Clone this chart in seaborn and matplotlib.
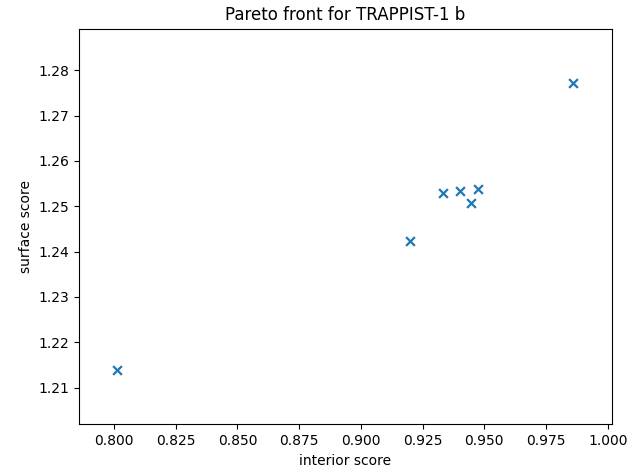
import matplotlib
matplotlib.use("Agg")
import matplotlib.pyplot as plt
import seaborn as sns
import pandas as pd

interior_score = [0.8013, 0.9200, 0.9332, 0.9403, 0.9446, 0.9475, 0.9861]
surface_score = [1.2139, 1.2424, 1.2530, 1.2534, 1.2507, 1.2539, 1.2772]

df = pd.DataFrame({"interior score": interior_score, "surface score": surface_score})

fig = plt.figure(figsize=(6.44, 4.74), dpi=100)
ax = fig.add_axes([0.1231, 0.1049, 0.9498 - 0.1231, 0.9395 - 0.1049])
sns.scatterplot(data=df, x="interior score", y="surface score", ax=ax,
                marker="x", s=40, color="#1f77b4", linewidth=1.6)
ax.set_xlim(0.7859, 1.0016)
ax.set_ylim(1.2019, 1.2892)
ax.set_xticks([0.800, 0.825, 0.850, 0.875, 0.900, 0.925, 0.950, 0.975, 1.000])
ax.set_xticklabels(["0.800", "0.825", "0.850", "0.875", "0.900", "0.925", "0.950", "0.975", "1.000"])
ax.set_yticks([1.21, 1.22, 1.23, 1.24, 1.25, 1.26, 1.27, 1.28])
ax.set_yticklabels(["1.21", "1.22", "1.23", "1.24", "1.25", "1.26", "1.27", "1.28"])
ax.set_xlabel("interior score")
ax.set_ylabel("surface score")
ax.set_title("Pareto front for TRAPPIST-1 b")
fig.savefig("out.png", dpi=100)
